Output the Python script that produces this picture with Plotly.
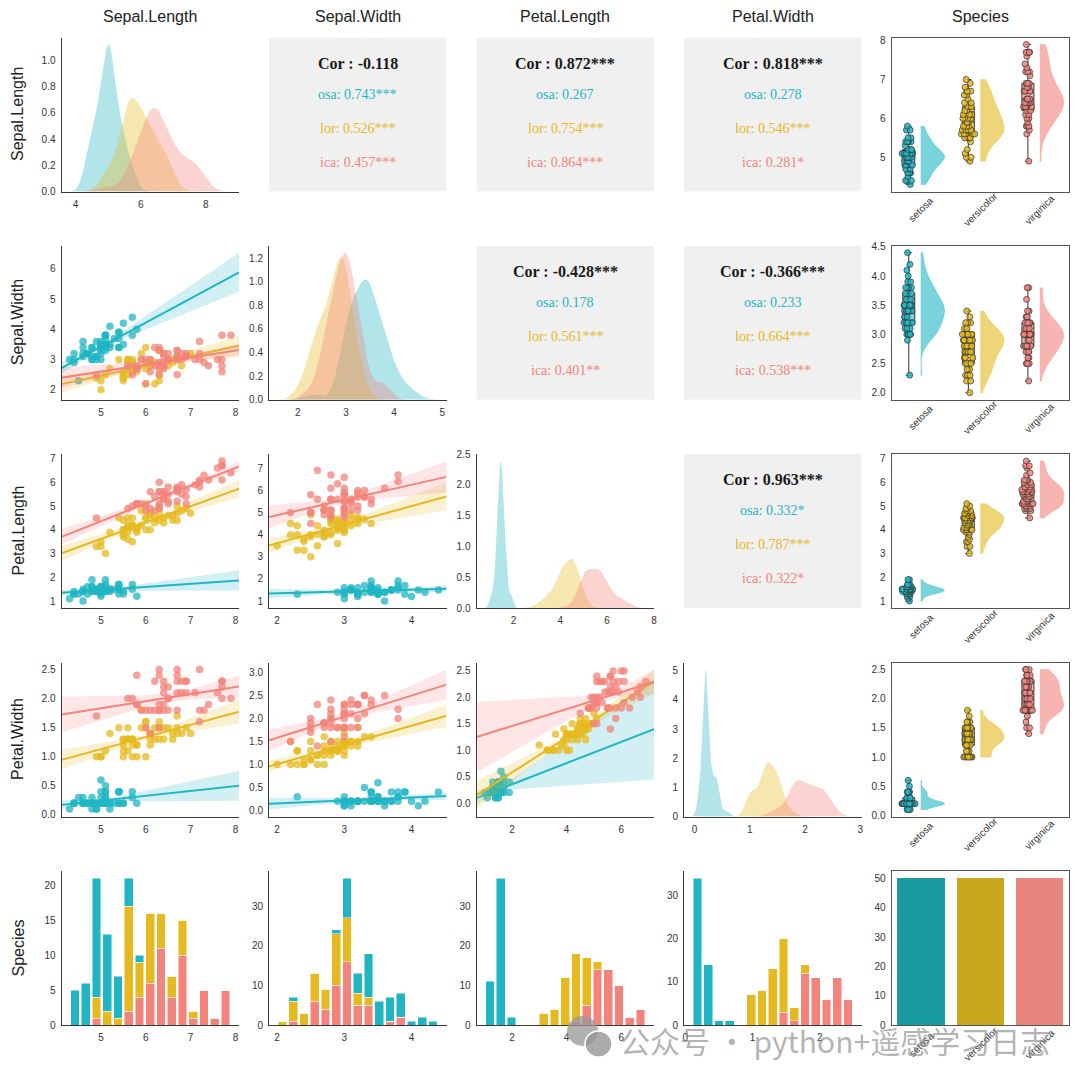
import numpy as np
import plotly.graph_objects as go
from plotly.subplots import make_subplots

variables = ['Sepal.Length', 'Sepal.Width', 'Petal.Length', 'Petal.Width']
species = ['setosa', 'versicolor', 'virginica']
colors = ['#1FB5C3', '#E5B91F', '#F3837B']
bar_colors = ['#1A9BA2', '#C9A71F', '#E8857D']

# iris data, one list per species and variable
setosa_sl = [5.1, 4.9, 4.7, 4.6, 5.0, 5.4, 4.6, 5.0, 4.4, 4.9, 5.4, 4.8, 4.8, 4.3, 5.8, 5.7, 5.4, 5.1, 5.7, 5.1,
             5.4, 5.1, 4.6, 5.1, 4.8, 5.0, 5.0, 5.2, 5.2, 4.7, 4.8, 5.4, 5.2, 5.5, 4.9, 5.0, 5.5, 4.9, 4.4, 5.1,
             5.0, 4.5, 4.4, 5.0, 5.1, 4.8, 5.1, 4.6, 5.3, 5.0]
setosa_sw = [3.5, 3.0, 3.2, 3.1, 3.6, 3.9, 3.4, 3.4, 2.9, 3.1, 3.7, 3.4, 3.0, 3.0, 4.0, 4.4, 3.9, 3.5, 3.8, 3.8,
             3.4, 3.7, 3.6, 3.3, 3.4, 3.0, 3.4, 3.5, 3.4, 3.2, 3.1, 3.4, 4.1, 4.2, 3.1, 3.2, 3.5, 3.6, 3.0, 3.4,
             3.5, 2.3, 3.2, 3.5, 3.8, 3.0, 3.8, 3.2, 3.7, 3.3]
setosa_pl = [1.4, 1.4, 1.3, 1.5, 1.4, 1.7, 1.4, 1.5, 1.4, 1.5, 1.5, 1.6, 1.4, 1.1, 1.2, 1.5, 1.3, 1.4, 1.7, 1.5,
             1.7, 1.5, 1.0, 1.7, 1.9, 1.6, 1.6, 1.5, 1.4, 1.6, 1.6, 1.5, 1.5, 1.4, 1.5, 1.2, 1.3, 1.4, 1.3, 1.5,
             1.3, 1.3, 1.3, 1.6, 1.9, 1.4, 1.6, 1.4, 1.5, 1.4]
setosa_pw = [0.2, 0.2, 0.2, 0.2, 0.2, 0.4, 0.3, 0.2, 0.2, 0.1, 0.2, 0.2, 0.1, 0.1, 0.2, 0.4, 0.4, 0.3, 0.3, 0.3,
             0.2, 0.4, 0.2, 0.5, 0.2, 0.2, 0.4, 0.2, 0.2, 0.2, 0.2, 0.4, 0.1, 0.2, 0.2, 0.2, 0.2, 0.1, 0.2, 0.2,
             0.3, 0.3, 0.2, 0.6, 0.4, 0.3, 0.2, 0.2, 0.2, 0.2]
versicolor_sl = [7.0, 6.4, 6.9, 5.5, 6.5, 5.7, 6.3, 4.9, 6.6, 5.2, 5.0, 5.9, 6.0, 6.1, 5.6, 6.7, 5.6, 5.8, 6.2, 5.6,
                 5.9, 6.1, 6.3, 6.1, 6.4, 6.6, 6.8, 6.7, 6.0, 5.7, 5.5, 5.5, 5.8, 6.0, 5.4, 6.0, 6.7, 6.3, 5.6, 5.5,
                 5.5, 6.1, 5.8, 5.0, 5.6, 5.7, 5.7, 6.2, 5.1, 5.7]
versicolor_sw = [3.2, 3.2, 3.1, 2.3, 2.8, 2.8, 3.3, 2.4, 2.9, 2.7, 2.0, 3.0, 2.2, 2.9, 2.9, 3.1, 3.0, 2.7, 2.2, 2.5,
                 3.2, 2.8, 2.5, 2.8, 2.9, 3.0, 2.8, 3.0, 2.9, 2.6, 2.4, 2.4, 2.7, 2.7, 3.0, 3.4, 3.1, 2.3, 3.0, 2.5,
                 2.6, 3.0, 2.6, 2.3, 2.7, 3.0, 2.9, 2.9, 2.5, 2.8]
versicolor_pl = [4.7, 4.5, 4.9, 4.0, 4.6, 4.5, 4.7, 3.3, 4.6, 3.9, 3.5, 4.2, 4.0, 4.7, 3.6, 4.4, 4.5, 4.1, 4.5, 3.9,
                 4.8, 4.0, 4.9, 4.7, 4.3, 4.4, 4.8, 5.0, 4.5, 3.5, 3.8, 3.7, 3.9, 5.1, 4.5, 4.5, 4.7, 4.4, 4.1, 4.0,
                 4.4, 4.6, 4.0, 3.3, 4.2, 4.2, 4.2, 4.3, 3.0, 4.1]
versicolor_pw = [1.4, 1.5, 1.5, 1.3, 1.5, 1.3, 1.6, 1.0, 1.3, 1.4, 1.0, 1.5, 1.0, 1.4, 1.3, 1.4, 1.5, 1.0, 1.5, 1.1,
                 1.8, 1.3, 1.5, 1.2, 1.3, 1.4, 1.4, 1.7, 1.5, 1.0, 1.1, 1.0, 1.2, 1.6, 1.5, 1.6, 1.5, 1.3, 1.3, 1.3,
                 1.2, 1.4, 1.2, 1.0, 1.3, 1.2, 1.3, 1.3, 1.1, 1.3]
virginica_sl = [6.3, 5.8, 7.1, 6.3, 6.5, 7.6, 4.9, 7.3, 6.7, 7.2, 6.5, 6.4, 6.8, 5.7, 5.8, 6.4, 6.5, 7.7, 7.7, 6.0,
                6.9, 5.6, 7.7, 6.3, 6.7, 7.2, 6.2, 6.1, 6.4, 7.2, 7.4, 7.9, 6.4, 6.3, 6.1, 7.7, 6.3, 6.4, 6.0, 6.9,
                6.7, 6.9, 5.8, 6.8, 6.7, 6.7, 6.3, 6.5, 6.2, 5.9]
virginica_sw = [3.3, 2.7, 3.0, 2.9, 3.0, 3.0, 2.5, 2.9, 2.5, 3.6, 3.2, 2.7, 3.0, 2.5, 2.8, 3.2, 3.0, 3.8, 2.6, 2.2,
                3.2, 2.8, 2.8, 2.7, 3.3, 3.2, 2.8, 3.0, 2.8, 3.0, 2.8, 3.8, 2.8, 2.8, 2.6, 3.0, 3.4, 3.1, 3.0, 3.1,
                3.1, 3.1, 2.7, 3.2, 3.3, 3.0, 2.5, 3.0, 3.4, 3.0]
virginica_pl = [6.0, 5.1, 5.9, 5.6, 5.8, 6.6, 4.5, 6.3, 5.8, 6.1, 5.1, 5.3, 5.5, 5.0, 5.1, 5.3, 5.5, 6.7, 6.9, 5.0,
                5.7, 4.9, 6.7, 4.9, 5.7, 6.0, 4.8, 4.9, 5.6, 5.8, 6.1, 6.4, 5.6, 5.1, 5.6, 6.1, 5.6, 5.5, 4.8, 5.4,
                5.6, 5.1, 5.1, 5.9, 5.7, 5.2, 5.0, 5.2, 5.4, 5.1]
virginica_pw = [2.5, 1.9, 2.1, 1.8, 2.2, 2.1, 1.7, 1.8, 1.8, 2.5, 2.0, 1.9, 2.1, 2.0, 2.4, 2.3, 1.8, 2.2, 2.3, 1.5,
                2.3, 2.0, 2.0, 1.8, 2.1, 1.8, 1.8, 1.8, 2.1, 1.6, 1.9, 2.0, 2.2, 1.5, 1.4, 2.3, 2.4, 1.8, 1.8, 2.1,
                2.4, 2.3, 1.9, 2.3, 2.5, 2.3, 1.9, 2.0, 2.3, 1.8]

# correlation labels of the upper panels (pairs of variable indices)
cor_pairs = [(0, 1), (0, 2), (0, 3), (1, 2), (1, 3), (2, 3)]
cor_all = ['-0.118', '0.872***', '0.818***', '-0.428***', '-0.366***', '0.963***']
cor_setosa = ['0.743***', '0.267', '0.278', '0.178', '0.233', '0.332*']
cor_versicolor = ['0.526***', '0.754***', '0.546***', '0.561***', '0.664***', '0.787***']
cor_virginica = ['0.457***', '0.864***', '0.281*', '0.401**', '0.538***', '0.322*']

data = [
    [np.array(setosa_sl), np.array(setosa_sw), np.array(setosa_pl), np.array(setosa_pw)],
    [np.array(versicolor_sl), np.array(versicolor_sw), np.array(versicolor_pl), np.array(versicolor_pw)],
    [np.array(virginica_sl), np.array(virginica_sw), np.array(virginica_pl), np.array(virginica_pw)],
]

T95 = 2.0106  # t quantile, df = 48
FONT = 'Liberation Sans, Arial, sans-serif'
SERIF = 'Liberation Serif, Times New Roman, serif'

# the page body adds an 8px margin, so the figure is drawn a bit smaller and shifted
OFF = 8
SIZE = 1072


def px_x(px):
    return (px - OFF) / SIZE


def px_y(py):
    return 1 - (py - OFF) / SIZE


def rgba(h, a):
    h = h.lstrip('#')
    return 'rgba(%d,%d,%d,%.3f)' % (int(h[0:2], 16), int(h[2:4], 16), int(h[4:6], 16), a)


def pad(lo, hi, f=0.05):
    d = hi - lo
    return [lo - f * d, hi + f * d]


def scott_bw(v):
    return v.std(ddof=1) * len(v) ** -0.2


def kde(v):
    bw = scott_bw(v)
    grid = np.linspace(v.min() - 3 * bw, v.max() + 3 * bw, 200)
    z = (grid[:, None] - v[None, :]) / bw
    dens = np.exp(-0.5 * z ** 2).sum(axis=1) / (len(v) * bw * np.sqrt(2 * np.pi))
    return grid, dens


def linfit(x, y, grid):
    n = len(x)
    b, a = np.polyfit(x, y, 1)
    resid = y - (a + b * x)
    s = np.sqrt((resid ** 2).sum() / (n - 2))
    se = s * np.sqrt(1.0 / n + (grid - x.mean()) ** 2 / ((x - x.mean()) ** 2).sum())
    yhat = a + b * grid
    return yhat, yhat - T95 * se, yhat + T95 * se


fig = make_subplots(rows=5, cols=5)

col_left = [61.5, 269, 476.5, 684, 891.5]
row_top = [37.5, 245.7, 454, 662.5, 871]
PW_, PH_ = 177.5, 154.0


def axkey(r, c):
    k = r * 5 + c + 1
    return ('xaxis', 'yaxis') if k == 1 else ('xaxis%d' % k, 'yaxis%d' % k)


def axref(r, c):
    k = r * 5 + c + 1
    return ('x', 'y') if k == 1 else ('x%d' % k, 'y%d' % k)


def style_axis(key, rng, dtick, fmt=None, mirror=False, linecolor='#3a3a3a', labels=True):
    d = dict(range=rng, showgrid=False, zeroline=False, showline=True, linecolor=linecolor,
             linewidth=1, ticks='', tickfont=dict(size=10, color='#333', family=FONT),
             mirror=mirror, ticklabelstandoff=3, automargin=False, showticklabels=labels)
    if dtick is not None:
        d.update(tickmode='linear', dtick=dtick, tick0=0)
    if fmt:
        d['tickformat'] = fmt
    fig.layout[key].update(d)


def category_labels(r, c, dx, dy):
    # rotated species names under a categorical panel
    xa, ya = axref(r, c)
    for s, name in enumerate(species):
        fig.add_annotation(text=name, xref=xa, yref=ya + ' domain', x=s + 1, y=0, xshift=dx, yshift=-dy,
                           textangle=-45, xanchor='center', yanchor='middle', showarrow=False,
                           font=dict(family=FONT, size=10, color='#333'))


all_vals = [np.concatenate([data[s][v] for s in range(3)]) for v in range(4)]
xr_cols = [pad(all_vals[v].min(), all_vals[v].max()) for v in range(4)]
x_dtick = [1, 1, 2, 1]
dens_dtick = [2, 1, 2, 1]
y_dtick = [1, 1, 1, 0.5]
y_fmt = [None, None, None, '.1f']
dens_ydtick = [0.2, 0.2, 0.5, 1]
dens_yfmt = ['.1f', '.1f', '.1f', None]
rain_dtick = [1, 0.5, 1, 0.5]
rain_fmt = [None, '.1f', None, '.1f']
hist_dtick = [5, 10, 10, 10]

# domains
for r in range(5):
    for c in range(5):
        xk, yk = axkey(r, c)
        fig.layout[xk].domain = [px_x(col_left[c]), px_x(col_left[c] + PW_)]
        fig.layout[yk].domain = [px_y(row_top[r] + PH_), px_y(row_top[r])]
        fig.layout[xk].automargin = False
        fig.layout[yk].automargin = False

for r in range(4):
    for c in range(4):
        xk, yk = axkey(r, c)
        xa, ya = axref(r, c)
        if r == c:
            # diagonal density
            lo, hi, top = np.inf, -np.inf, 0
            for s in range(3):
                g, d = kde(data[s][c])
                lo, hi, top = min(lo, g.min()), max(hi, g.max()), max(top, d.max())
                fig.add_trace(go.Scatter(x=g, y=d, mode='lines', fill='tozeroy', line=dict(width=0),
                                         fillcolor=rgba(colors[s], 0.35), hoverinfo='skip'),
                              row=r + 1, col=c + 1)
            style_axis(xk, pad(lo, hi), dens_dtick[c])
            style_axis(yk, [0, top * 1.05], dens_ydtick[r], dens_yfmt[r])
        elif r < c:
            # correlation box
            i = cor_pairs.index((r, c))
            for k in (xk, yk):
                fig.layout[k].update(range=[0, 1], showline=False, showticklabels=False, ticks='',
                                     showgrid=False, zeroline=False, automargin=False)
            fig.add_shape(type='rect', xref=xa, yref=ya, x0=0, x1=1, y0=0, y1=1,
                          fillcolor='#F0F0F0', line=dict(width=0), layer='above')
            lines = [('<b>Cor : %s</b>' % cor_all[i], '#1a1a1a', 16, 0.832),
                     ('%s: %s' % (species[0][-3:], cor_setosa[i]), colors[0], 14, 0.63),
                     ('%s: %s' % (species[1][-3:], cor_versicolor[i]), colors[1], 14, 0.41),
                     ('%s: %s' % (species[2][-3:], cor_virginica[i]), colors[2], 14, 0.19)]
            for txt, col, size, yy in lines:
                fig.add_annotation(text=txt, xref=xa, yref=ya, x=0.5, y=yy, xanchor='center',
                                   yanchor='middle', showarrow=False,
                                   font=dict(family=SERIF, size=size, color=col))
        else:
            # scatter with regression and CI band
            xr = xr_cols[c]
            grid = np.linspace(xr[0], xr[1], 100)
            ylo, yhi = all_vals[r].min(), all_vals[r].max()
            for s in range(3):
                x, y = data[s][c], data[s][r]
                yhat, lo_, hi_ = linfit(x, y, grid)
                ylo, yhi = min(ylo, lo_.min()), max(yhi, hi_.max())
                fig.add_trace(go.Scatter(x=x, y=y, mode='markers',
                                         marker=dict(size=7.5, color=rgba(colors[s], 0.75)), hoverinfo='skip'),
                              row=r + 1, col=c + 1)
                fig.add_trace(go.Scatter(x=np.concatenate([grid, grid[::-1]]),
                                         y=np.concatenate([hi_, lo_[::-1]]), mode='lines', fill='toself',
                                         fillcolor=rgba(colors[s], 0.2), line=dict(width=0), hoverinfo='skip'),
                              row=r + 1, col=c + 1)
                fig.add_trace(go.Scatter(x=grid, y=yhat, mode='lines', line=dict(color=colors[s], width=2),
                                         hoverinfo='skip'),
                              row=r + 1, col=c + 1)
            style_axis(xk, xr, x_dtick[c])
            style_axis(yk, pad(ylo, yhi), y_dtick[r], y_fmt[r])

    # raincloud in the Species column
    xk, yk = axkey(r, 4)
    for s in range(3):
        v = data[s][r]
        fig.add_trace(go.Violin(y=v, x0=s + 1 + 0.2, side='positive', width=0.8, spanmode='hard',
                                bandwidth=scott_bw(v), fillcolor=rgba(colors[s], 0.6),
                                line=dict(width=0.5, color=rgba(colors[s], 0.6)), points=False,
                                hoverinfo='skip'),
                      row=r + 1, col=5)
        fig.add_trace(go.Box(y=v, x0=s + 1, width=0.2, boxpoints=False, whiskerwidth=0.5,
                             fillcolor=rgba(colors[s], 0.55), line=dict(color='#333333', width=1),
                             hoverinfo='skip'),
                      row=r + 1, col=5)
        fig.add_trace(go.Box(y=v, x0=s + 1, width=0.24, boxpoints='all', jitter=1, pointpos=0,
                             fillcolor='rgba(0,0,0,0)', line=dict(width=0, color='rgba(0,0,0,0)'),
                             marker=dict(size=6, color=rgba(colors[s], 0.85),
                                         line=dict(color='#333333', width=0.7)),
                             hoverinfo='skip'),
                      row=r + 1, col=5)
    style_axis(xk, [0.71, 3.69], None, mirror=True, linecolor='#555', labels=False)
    style_axis(yk, pad(all_vals[r].min(), all_vals[r].max()), rain_dtick[r], rain_fmt[r], mirror=True,
               linecolor='#555')
    category_labels(r, 4, 12, 18)

# bottom row: stacked histograms
for c in range(4):
    xk, yk = axkey(4, c)
    edges = np.round(np.linspace(all_vals[c].min(), all_vals[c].max(), 16), 9)
    centers = (edges[:-1] + edges[1:]) / 2
    binw = edges[1] - edges[0]
    total = np.zeros(15)
    for s in [2, 1, 0]:
        cnt = np.histogram(data[s][c], bins=edges)[0]
        total += cnt
        fig.add_trace(go.Bar(x=centers, y=cnt, width=0.8 * binw, marker=dict(color=colors[s],
                             line=dict(color='rgba(255,255,255,0.8)', width=0.6)), hoverinfo='skip'),
                      row=5, col=c + 1)
    style_axis(xk, xr_cols[c], x_dtick[c])
    style_axis(yk, [0, total.max() * 1.05], hist_dtick[c])

# bottom-right: species counts
counts = [len(data[s][0]) for s in range(3)]
fig.add_trace(go.Bar(x=[1, 2, 3], y=counts, width=0.8, marker=dict(color=bar_colors, line=dict(width=0)),
                     hoverinfo='skip'), row=5, col=5)
xk, yk = axkey(4, 4)
style_axis(xk, [0.5, 3.5], None, mirror=True, linecolor='#555', labels=False)
style_axis(yk, [0, max(counts) * 1.05], 10, mirror=True, linecolor='#555')
category_labels(4, 4, 0, 19)

# column and row titles
for i, name in enumerate(variables + ['Species']):
    fig.add_annotation(text=name, xref='paper', yref='paper', x=px_x(col_left[i] + PW_ / 2),
                       y=px_y(16.7), xanchor='center', yanchor='middle', showarrow=False,
                       font=dict(family=FONT, size=16, color='#222'))
    fig.add_annotation(text=name, xref='paper', yref='paper', x=px_x(17.5),
                       y=px_y(row_top[i] + PH_ / 2), xanchor='center', yanchor='middle', textangle=-90,
                       showarrow=False, font=dict(family=FONT, size=16, color='#222'))

# watermark
fig.add_shape(type='circle', xref='paper', yref='paper', x0=px_x(567), x1=px_x(598),
              y0=px_y(1046), y1=px_y(1016), fillcolor='rgba(150,150,150,0.75)', line=dict(width=0))
fig.add_shape(type='circle', xref='paper', yref='paper', x0=px_x(585), x1=px_x(612),
              y0=px_y(1057), y1=px_y(1031), fillcolor='rgba(150,150,150,0.8)',
              line=dict(color='white', width=1.5))
fig.add_annotation(text='公众号 · python+遥感学习日志', xref='paper', yref='paper', x=px_x(618),
                   y=px_y(1040), xanchor='left', yanchor='middle', showarrow=False,
                   font=dict(family='Noto Sans CJK SC', size=30, color='rgba(130,130,130,0.6)'))

fig.update_layout(width=SIZE, height=SIZE, margin=dict(l=0, r=0, t=0, b=0), autosize=False,
                  plot_bgcolor='white', paper_bgcolor='white', showlegend=False, barmode='stack',
                  font=dict(family=FONT))

fig.write_html("out.html")
